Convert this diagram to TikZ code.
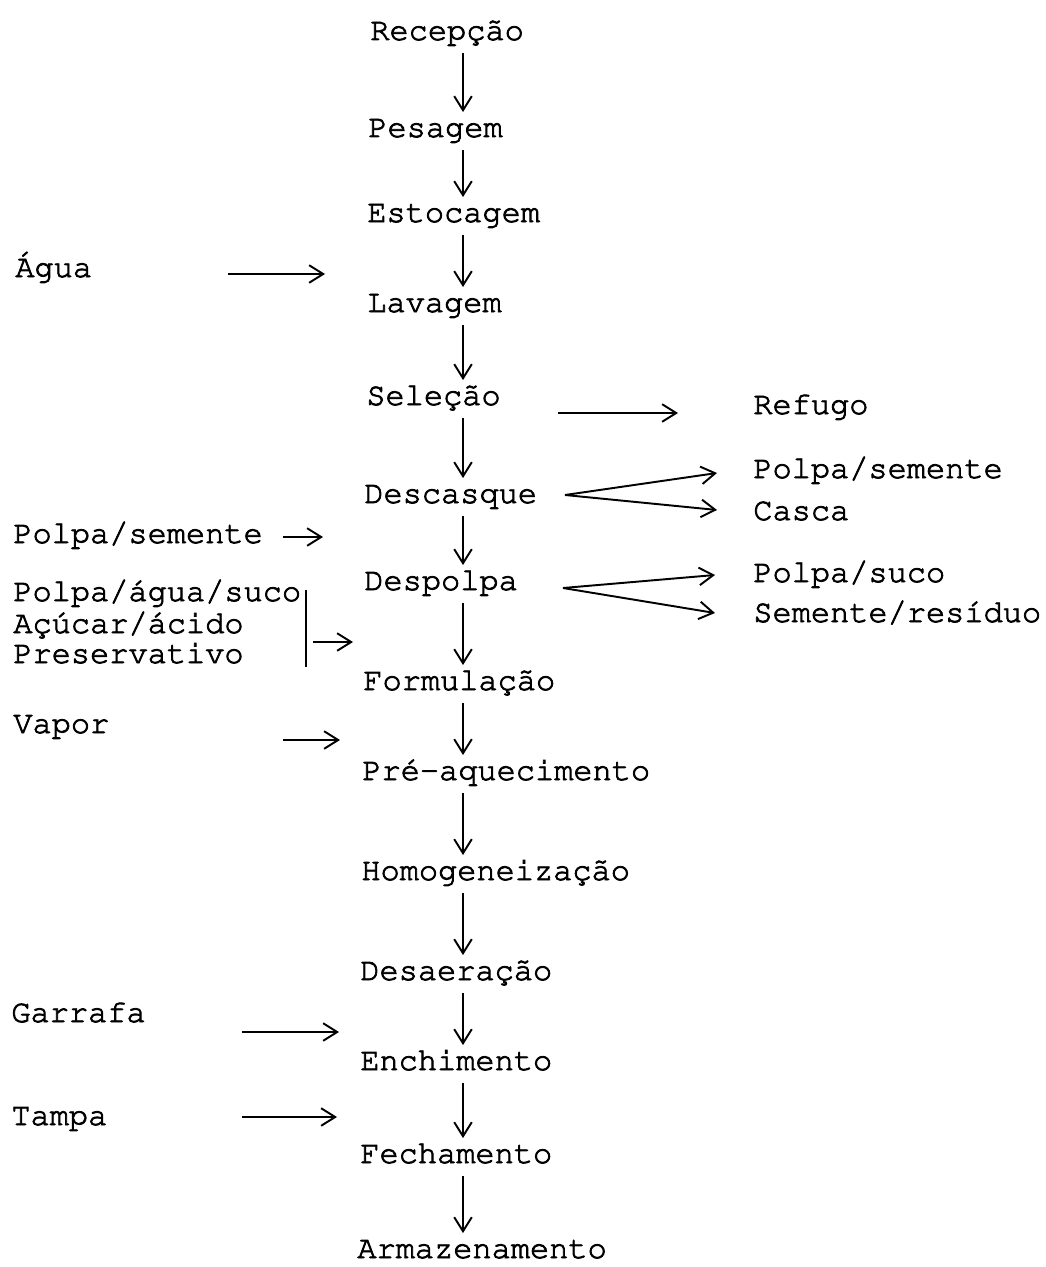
\documentclass[tikz,border=0pt]{standalone}
\usepackage[T1]{fontenc}
\usepackage{courier}
\usepackage{tikz}
\usetikzlibrary{arrows.meta, positioning}

% typed look: fill and stroke the glyphs
\newcommand{\inkon}{\special{pdf:code 2 Tr 0.45 w}}
\newcommand{\inkoff}{\special{pdf:code 0 Tr}}

\begin{document}
\begin{tikzpicture}[x=0.02cm, y=-0.02cm,
    stage/.style={anchor=base west, inner xsep=0pt, inner ysep=0pt,
        text height=14pt, text depth=7.4pt,
        font=\ttfamily\fontsize{18.2pt}{22pt}\selectfont,
        execute at begin node=\inkon, execute at end node=\inkoff},
    side/.style={anchor=base west, inner sep=0pt,
        font=\ttfamily\fontsize{18.2pt}{22pt}\selectfont,
        execute at begin node=\inkon, execute at end node=\inkoff},
    flow/.style={line width=1.1pt, -{Straight Barb[length=8pt, width=10pt]}}]
    \useasboundingbox (0,0) rectangle (1045,1267);

    % Main process line
    \node[stage] (rec) at (370,40) {Recepção};
    \node[stage] (pes) at (368,137) {Pesagem};
    \node[stage] (est) at (367,222) {Estocagem};
    \node[stage] (lav) at (367,312) {Lavagem};
    \node[stage] (sel) at (366,405) {Seleção};
    \node[stage] (desc) at (364,503) {Descasque};
    \node[stage] (desp) at (364,590) {Despolpa};
    \node[stage] (form) at (363,690) {Formulação};
    \node[stage] (preaq) at (362,780) {Pré-aquecimento};
    \node[stage] (homog) at (361,880) {Homogeneização};
    \node[stage] (desaer) at (360,980) {Desaeração};
    \node[stage] (ench) at (360,1070) {Enchimento};
    \node[stage] (fech) at (360,1163) {Fechamento};
    \node[stage] (armaz) at (357,1258) {Armazenamento};

    % Flow arrows
    \coordinate (axis) at (463,0);
    \foreach \a/\b in {rec/pes, pes/est, est/lav, lav/sel, sel/desc, desc/desp,
        desp/form, form/preaq, preaq/homog, homog/desaer, desaer/ench,
        ench/fech, fech/armaz} {
        \draw[flow] (\a.south -| axis) -- (\b.north -| axis);
    }

    % Inputs
    \node[side] (agua) at (15,277) {Água};
    \coordinate (aguaOut) at (228,274);
    \coordinate (aguaIn) at (325,274);
    \draw[flow] (aguaOut) -- (aguaIn);

    \node[side] (polsemIn) at (13,543) {Polpa/semente};
    \coordinate (polsemOut) at (283,537);
    \coordinate (polsemTip) at (323,537);
    \draw[flow] (polsemOut) -- (polsemTip);

    \node[side] (polagua) at (13,601) {Polpa/água/suco};
    \node[side] (acucar) at (13,633) {Açúcar/ácido};
    \node[side] (preserv) at (13,663) {Preservativo};
    \coordinate (brTop) at (306,590);
    \coordinate (brBot) at (306,667);
    \draw[line width=1.1pt] (brTop) -- (brBot);
    \coordinate (formOut) at (313,642);
    \coordinate (formTip) at (353,642);
    \draw[flow] (formOut) -- (formTip);

    \node[side] (vapor) at (13,733) {Vapor};
    \coordinate (vaporOut) at (283,740);
    \coordinate (vaporTip) at (340,740);
    \draw[flow] (vaporOut) -- (vaporTip);

    \node[side] (garrafa) at (11,1022) {Garrafa};
    \coordinate (garrOut) at (242,1032);
    \coordinate (garrTip) at (339,1032);
    \draw[flow] (garrOut) -- (garrTip);

    \node[side] (tampa) at (11,1125) {Tampa};
    \coordinate (tampaOut) at (242,1117);
    \coordinate (tampaTip) at (337,1117);
    \draw[flow] (tampaOut) -- (tampaTip);

    % Outputs
    \node[side] (refugo) at (753,414) {Refugo};
    \coordinate (selOut) at (558,413);
    \coordinate (selTip) at (678,413);
    \draw[flow] (selOut) -- (selTip);

    \node[side] (polsemOut2) at (753,478) {Polpa/semente};
    \node[side] (casca) at (753,520) {Casca};
    \coordinate (descFork) at (565,495);
    \draw[flow] (descFork) -- (717,473);
    \draw[flow] (descFork) -- (717,510);

    \node[side] (polsuco) at (753,582) {Polpa/suco};
    \node[side] (semres) at (753,622) {Semente/resíduo};
    \coordinate (despFork) at (563,588);
    \draw[flow] (despFork) -- (715,575);
    \draw[flow] (despFork) -- (715,613);
\end{tikzpicture}
\end{document}
